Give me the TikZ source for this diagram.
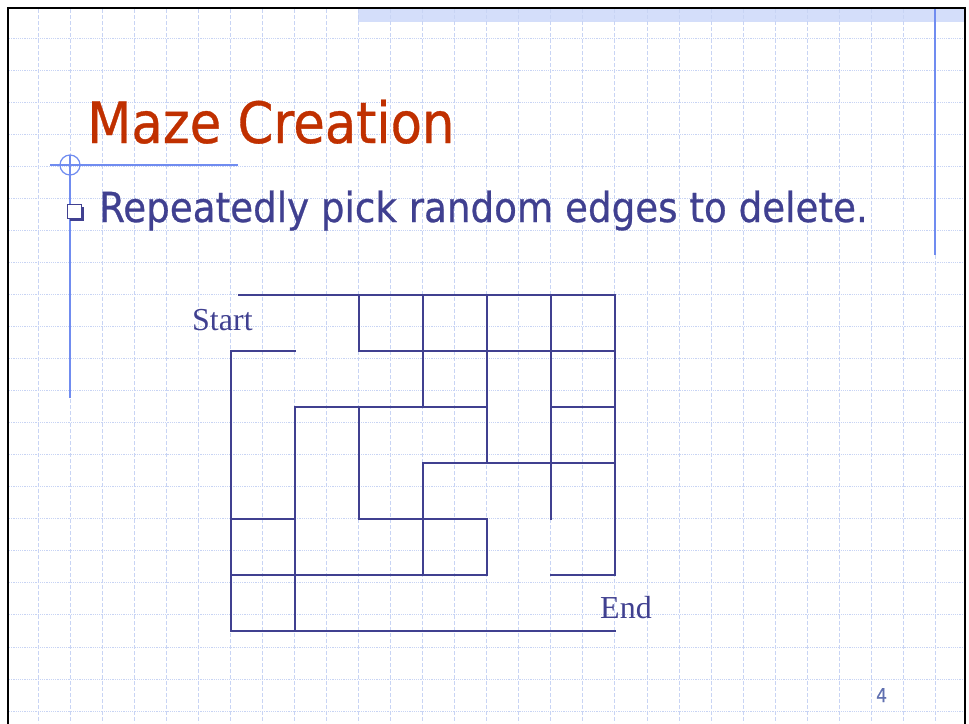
\documentclass[tikz,border=0pt]{standalone}
\usepackage{fontspec}
\setmainfont{Liberation Serif}
\newfontfamily\tahoma[FakeBold=0.6]{DejaVu Sans Condensed}
\definecolor{titlered}{RGB}{192,48,0}
\definecolor{ink}{RGB}{64,64,144}
\definecolor{deco}{RGB}{112,140,240}
\definecolor{gridblue}{RGB}{200,212,244}
\definecolor{band}{RGB}{212,222,250}
\definecolor{pagegrey}{RGB}{96,112,176}
\tikzset{
  wall/.style={ink, line width=2.2pt, line cap=rect},
  gridh/.style={gridblue, line width=0.9pt, dash pattern=on 1.2pt off 1pt},
  gridv/.style={gridblue, line width=0.9pt, dash pattern=on 4pt off 2pt},
  decoline/.style={deco, line width=1.2pt},
  txt/.style={anchor=base west, inner sep=0pt}
}
\begin{document}
\begin{tikzpicture}[x=1pt, y=-1pt, line join=miter]
	\useasboundingbox (0,0) rectangle (969,723);
	\def\gs{32.05}
	\fill[band] (358,9) rectangle (965,22);
	\foreach \k in {0,...,21}{\draw[gridh] (9,38+\k*\gs) -- (965,38+\k*\gs);}
	\foreach \k in {0,...,28}{\draw[gridv] (38+\k*\gs,9) -- (38+\k*\gs,723);}
	\draw[black, line width=2.5pt] (8,724) -- (8,8) -- (965,8) -- (965,724);
	\draw[decoline] (935,9) -- (935,255);
	\draw[decoline] (50,165) -- (238,165);
	\draw[decoline] (70,155) -- (70,398);
	\draw[decoline] (70,165) circle (10);
	\node[txt, font=\tahoma\fontsize{57}{60}\selectfont, text=titlered] (title) at (87,143) {Maze Creation};
	\fill[ink] (70,207) rectangle (84,221);
	\draw[ink, fill=white, line width=0.8pt] (67,204) rectangle (81,218);
	\node[txt, font=\tahoma\fontsize{41.4}{44}\selectfont, text=ink] (point) at (99,222) {Repeatedly pick random edges to delete.};
	\begin{scope}[shift={(231,295)}, x=64pt, y=-56pt]
		\foreach \ia/\ja/\ib/\jb in {0.125/0/6/0, 0/1/1/1, 2/1/6/1, 1/2/4/2, 5/2/6/2, 3/3/6/3, 0/4/1/4, 2/4/4/4, 0/5/4/5, 5/5/6/5, 0/6/6/6}
			{\draw[wall] (\ia,\ja) -- (\ib,\jb);}
		\foreach \ia/\ja/\ib/\jb in {0/1/0/6, 1/2/1/6, 2/0/2/1, 2/2/2/4, 3/0/3/2, 3/3/3/5, 4/0/4/3, 4/4/4/5, 5/0/5/4, 6/0/6/5}
			{\draw[wall] (\ia,\ja) -- (\ib,\jb);}
	\end{scope}
	\node[txt, font=\fontsize{32}{34}\selectfont, text=ink] (start) at (192,330) {Start};
	\node[txt, font=\fontsize{32}{34}\selectfont, text=ink] (end) at (600,618) {End};
	\node[txt, font=\tahoma\fontsize{19}{20}\selectfont, text=pagegrey] (page) at (876,702) {4};
\end{tikzpicture}
\end{document}
